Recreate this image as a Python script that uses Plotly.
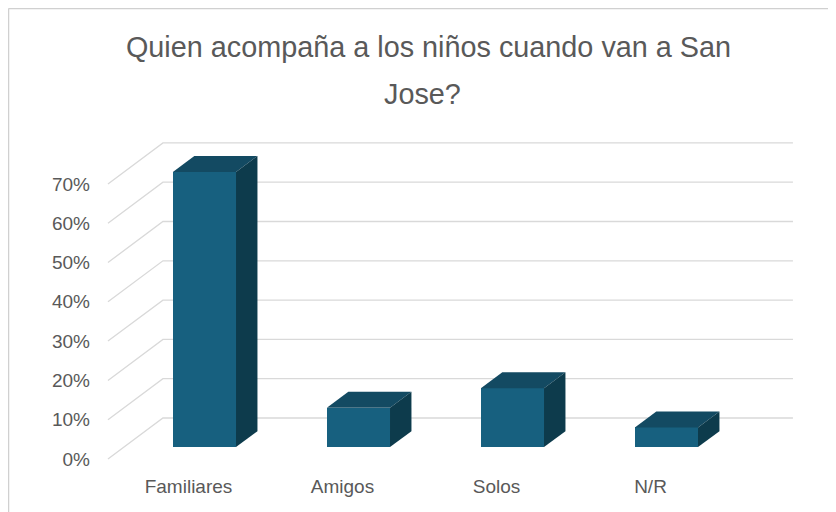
import plotly.graph_objects as go

categories = ["Familiares", "Amigos", "Solos", "N/R"]
values = [70, 10, 15, 5]
tick_vals = [0, 10, 20, 30, 40, 50, 60, 70]
tick_text = ["0%", "10%", "20%", "30%", "40%", "50%", "60%", "70%"]
title_line1 = "Quien acompaña a los niños cuando van a San"
title_line2 = "Jose?"

# oblique projection (depth z in [0,1]) in data units
DX, DY = 0.357, 10.43
ZF, ZB = 0.29, 0.68
W = 0.41
XL, XR = -0.523, 3.568

FRONT = "#17607F"
TOP = "#134A62"
SIDE = "#0D3B4C"
GRID = "#D9D9D9"
TXT = "#595959"


def proj(x, v, z):
    return x + z * DX, v + z * DY


fig = go.Figure()

# gridlines: back wall + left side wall (main axes, drawn underneath)
gx, gy = [], []
for v in tick_vals:
    a = proj(XL, v, 0)
    b = proj(XL, v, 1)
    c = proj(XR, v, 1)
    gx += [a[0], b[0], c[0], None]
    gy += [a[1], b[1], c[1], None]
fig.add_trace(go.Scatter(x=gx, y=gy, mode="lines", line=dict(color=GRID, width=1.3),
                         hoverinfo="skip", showlegend=False))

# bars on overlay axes so they sit above the gridlines
xs = list(range(len(categories)))
fig.add_trace(go.Bar(x=[i + ZF * DX for i in xs], y=values, base=[ZF * DY] * len(values),
                     width=W, marker=dict(color=FRONT, line=dict(width=0)),
                     showlegend=False, hovertext=categories, xaxis="x2", yaxis="y2"))
for i, v in zip(xs, values):
    l, r = i - W / 2, i + W / 2
    top = [proj(l, v, ZF), proj(r, v, ZF), proj(r, v, ZB), proj(l, v, ZB), proj(l, v, ZF)]
    side = [proj(r, 0, ZF), proj(r, v, ZF), proj(r, v, ZB), proj(r, 0, ZB), proj(r, 0, ZF)]
    fig.add_trace(go.Scatter(x=[p[0] for p in top], y=[p[1] for p in top], fill="toself",
                             fillcolor=TOP, mode="lines", line=dict(width=0, color=TOP),
                             hoverinfo="skip", showlegend=False, xaxis="x2", yaxis="y2"))
    fig.add_trace(go.Scatter(x=[p[0] for p in side], y=[p[1] for p in side], fill="toself",
                             fillcolor=SIDE, mode="lines", line=dict(width=0, color=SIDE),
                             hoverinfo="skip", showlegend=False, xaxis="x2", yaxis="y2"))

# page is offset by the 8px body margin
OFF = 8
L, R, T, B = 100 - OFF, 20 + OFF, 120 - OFF, 40 + OFF
PXU, PYU = 154.0, 3.93
X0PIX, Y0PIX = 188.5 - OFF, 459.0 - OFF
x0 = (L - X0PIX) / PXU
x1 = x0 + (836 - L - R) / PXU
y0 = (Y0PIX - (512 - B)) / PYU
y1 = (Y0PIX - T) / PYU

PW, PH = 836 - L - R, 512 - T - B
bx = (0.5 - L) / PW
by = (512 - B - 0.5) / PH

fig.update_layout(
    width=836, height=512,
    margin=dict(l=L, r=R, t=T, b=B, autoexpand=False),
    paper_bgcolor="white", plot_bgcolor="white",
    font=dict(family="Liberation Sans, Arial, sans-serif", color=TXT),
    title=dict(text=title_line1, x=(428.5 - OFF) / 836, xanchor="center", xref="container",
               y=1 - (46.5 - OFF) / 512, yanchor="middle", yref="container",
               font=dict(size=28.8, color=TXT, family="Liberation Sans, Arial, sans-serif")),
    annotations=[
        dict(text=title_line2, xref="paper", yref="paper",
             x=(422.5 - OFF - L) / PW, y=(512 - B - (93.5 - OFF)) / PH,
             xanchor="center", yanchor="middle", showarrow=False,
             font=dict(size=28.8, color=TXT, family="Liberation Sans, Arial, sans-serif")),
    ],
    xaxis=dict(range=[x0, x1], tickvals=xs, ticktext=categories, showgrid=False,
               zeroline=False, showline=False, ticks="", tickfont=dict(size=19, color=TXT),
               ticklabelstandoff=1, automargin=False),
    yaxis=dict(range=[y0, y1], tickvals=tick_vals, ticktext=tick_text, showgrid=False,
               zeroline=False, showline=False, ticks="", tickfont=dict(size=19, color=TXT),
               ticklabelstandoff=9, automargin=False),
    xaxis2=dict(range=[x0, x1], overlaying="x", visible=False, automargin=False),
    yaxis2=dict(range=[y0, y1], overlaying="y", visible=False, automargin=False),
    bargap=0,
    shapes=[
        dict(type="line", xref="paper", yref="paper", x0=bx, x1=bx, y0=by, y1=-0.3,
             line=dict(color="#D0D0D0", width=1.5)),
        dict(type="line", xref="paper", yref="paper", x0=bx, x1=1.1, y0=by, y1=by,
             line=dict(color="#D0D0D0", width=1.5)),
    ],
)

fig.write_html("out.html")
